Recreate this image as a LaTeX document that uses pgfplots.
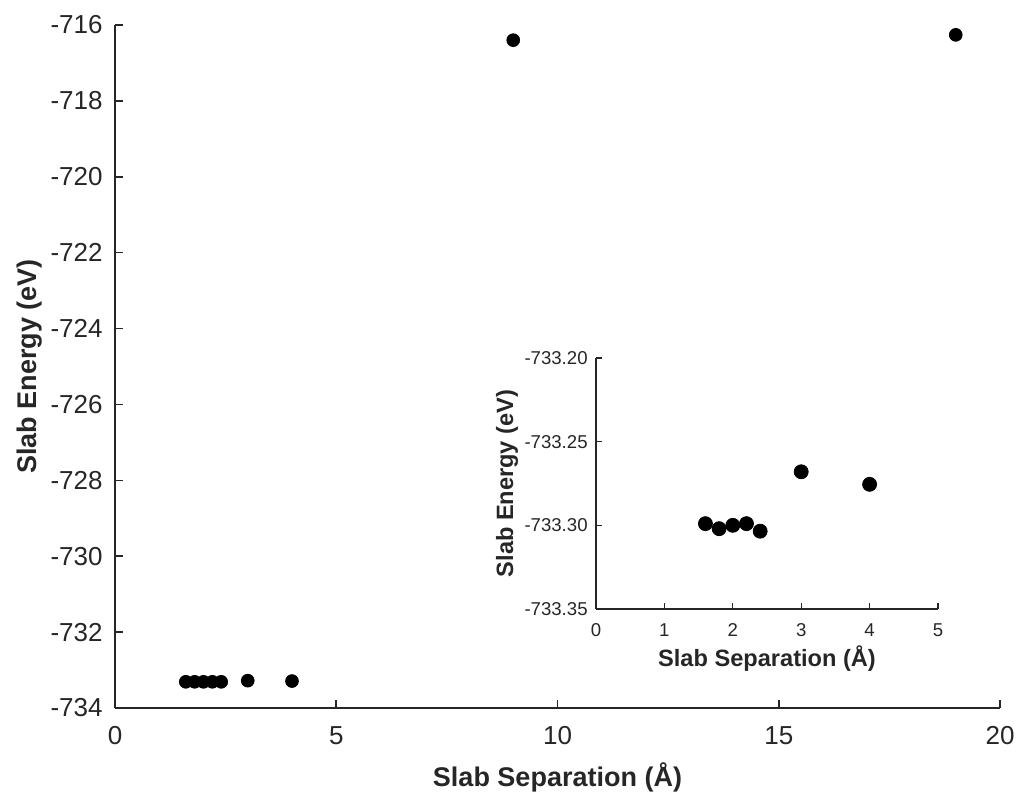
\documentclass[border=0pt]{standalone}
\usepackage{fontspec}
\setmainfont{Liberation Sans}
\usepackage{pgfplots}
\pgfplotsset{compat=1.18}
\definecolor{axgray}{rgb}{0.15,0.15,0.15}

\begin{document}
\begin{tikzpicture}
\begin{axis}[
    name=main,
    scale only axis,
    width=442.5pt, height=341.5pt,
    xmin=0, xmax=20, ymin=-734, ymax=-716,
    xtick={0,5,10,15,20},
    ytick={-734,-732,...,-716},
    axis lines=left,
    axis line style={-, axgray, line width=1pt},
    tick style={axgray, line width=0.8pt},
    tick align=inside,
    major tick length=4pt,
    tick label style={font=\fontsize{13}{15}\selectfont, text=axgray, inner sep=0pt},
    xticklabel style={anchor=north, yshift=-9pt},
    yticklabel style={anchor=east, xshift=-6pt},
    /pgf/number format/assume math mode=true,
    xlabel={\textbf{Slab Separation (Å)}},
    ylabel={\textbf{Slab Energy (eV)}},
    label style={font=\fontsize{13.5}{15}\selectfont, text=axgray, inner sep=0pt},
    xlabel style={at={(axis description cs:0.5,0)}, anchor=north, yshift=-27pt},
    ylabel style={at={(axis description cs:-0.096,0.5)}, anchor=center},
    clip=false,
]
\addplot[only marks, mark=*, mark size=3.2pt, black] coordinates {
(1.6,-733.31) (1.8,-733.31) (2.0,-733.31) (2.2,-733.31) (2.4,-733.31)
(3,-733.28) (4,-733.29) (9,-716.40) (19,-716.26)
};
\end{axis}

\begin{axis}[
    at={(main.south west)}, anchor=south west,
    xshift=240.5pt, yshift=49.5pt,
    scale only axis,
    width=171pt, height=125.5pt,
    xmin=0, xmax=5, ymin=-733.35, ymax=-733.20,
    xtick={0,1,...,5},
    ytick={-733.35,-733.30,-733.25,-733.20},
    axis lines=left,
    axis line style={-, axgray, line width=0.8pt},
    tick style={axgray, line width=0.6pt},
    tick align=inside,
    major tick length=3pt,
    tick label style={font=\fontsize{9.3}{11}\selectfont, text=axgray, inner sep=0pt},
    xticklabel style={anchor=north, yshift=-7pt},
    yticklabel style={anchor=east, xshift=-4pt, /pgf/number format/.cd, fixed, fixed zerofill, precision=2},
    /pgf/number format/assume math mode=true,
    xlabel={\textbf{Slab Separation (Å)}},
    ylabel={\textbf{Slab Energy (eV)}},
    label style={font=\fontsize{11.8}{13}\selectfont, text=axgray, inner sep=0pt},
    xlabel style={at={(axis description cs:0.5,0)}, anchor=center, yshift=-25pt},
    ylabel style={at={(axis description cs:-0.26,0.5)}, anchor=center},
    clip=false,
]
\addplot[only marks, mark=*, mark size=3.5pt, black] coordinates {
(1.6,-733.299) (1.8,-733.302) (2.0,-733.300) (2.2,-733.299) (2.4,-733.3035)
(3,-733.268) (4,-733.2755)
};
\end{axis}
\path (main.south west) ++(-57.5pt,-43.5pt) rectangle ++(510.5pt,397.5pt);
\end{tikzpicture}
\end{document}
